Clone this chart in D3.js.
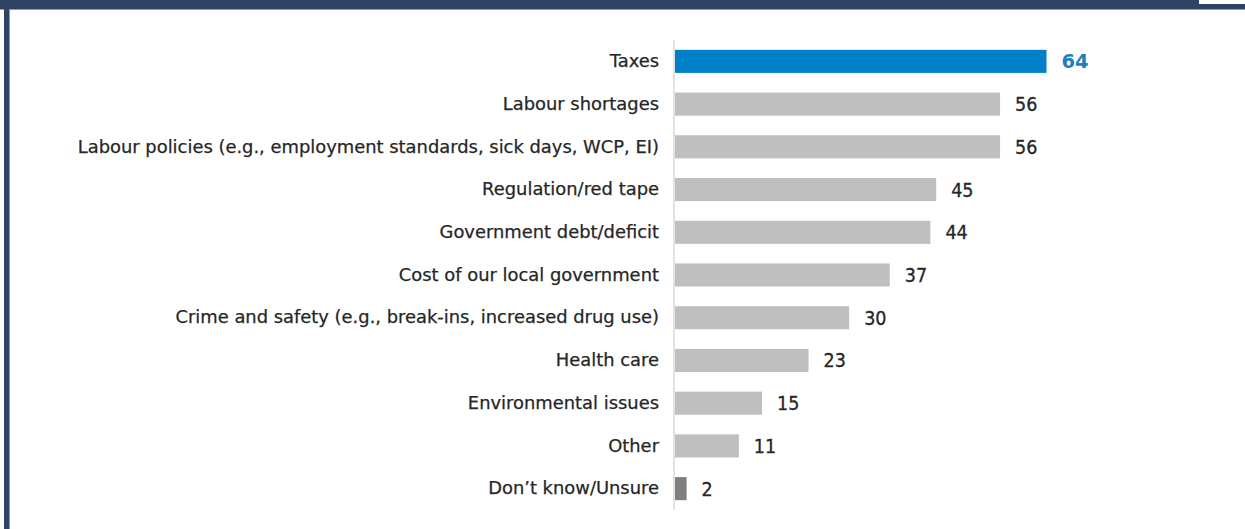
<!DOCTYPE html>
<html>
<head>
<meta charset="utf-8">
<script src="https://cdn.jsdelivr.net/npm/d3@7"></script>
<style>
  html, body { margin: 0; padding: 0; background: #fff; }
  svg { display: block; }
</style>
</head>
<body>
<svg id="chart" width="1245" height="529"></svg>
<script>
// Share of respondents citing each issue (%)
const categories = [
  "Taxes",
  "Labour shortages",
  "Labour policies (e.g., employment standards, sick days, WCP, EI)",
  "Regulation/red tape",
  "Government debt/deficit",
  "Cost of our local government",
  "Crime and safety (e.g., break-ins, increased drug use)",
  "Health care",
  "Environmental issues",
  "Other",
  "Don\u2019t know/Unsure"
];
const values = [64, 56, 56, 45, 44, 37, 30, 23, 15, 11, 2];
const highlight = ["Taxes"];
const muted = ["Don\u2019t know/Unsure"];

const svg = d3.select("#chart");
const W = 1245, H = 529;

// Frame: navy bands across the top and down the left edge
svg.append("rect").attr("x", 0).attr("y", 0).attr("width", W).attr("height", 9).attr("fill", "#2f4364");
svg.append("rect").attr("x", 1199).attr("y", 0).attr("width", W - 1199).attr("height", 4).attr("fill", "#ffffff");
svg.append("rect").attr("x", 0).attr("y", 9).attr("width", W).attr("height", 1).attr("fill", "#8d9ab3");
svg.append("rect").attr("x", 4).attr("y", 0).attr("width", 5).attr("height", H).attr("fill", "#2f4364");
svg.append("rect").attr("x", 9).attr("y", 9).attr("width", 1).attr("height", H).attr("fill", "#8d9ab3");

const x = d3.scaleLinear().domain([0, 64]).range([675, 1046.5]);
const y = d3.scaleBand().domain(categories).range([40, 510]).paddingInner(0.46).paddingOuter(0.23);

const rows = categories.map((c, i) => ({ cat: c, val: values[i] }));

// Bars
svg.append("g").selectAll("rect").data(rows).join("rect")
  .attr("x", x(0))
  .attr("y", d => y(d.cat))
  .attr("width", d => x(d.val) - x(0))
  .attr("height", y.bandwidth())
  .attr("fill", d => highlight.includes(d.cat) ? "#0080c6" : muted.includes(d.cat) ? "#7f7f7f" : "#bfbfbf");

// Baseline
svg.append("line")
  .attr("x1", 674).attr("x2", 674)
  .attr("y1", 40).attr("y2", 510)
  .attr("stroke", "#e2e2e2").attr("stroke-width", 2);

// Category labels via a left axis
const yAxis = d3.axisLeft(y).tickSize(0).tickPadding(0);
const ga = svg.append("g").attr("transform", "translate(659,0)").call(yAxis);
ga.select(".domain").remove();
ga.selectAll("text")
  .attr("font-family", "'DejaVu Sans', sans-serif")
  .attr("font-size", 17.9)
  .attr("fill", "#262626")
  .attr("stroke", "#262626")
  .attr("stroke-width", 0.25);

// Value labels
svg.append("g").selectAll("text").data(rows).join("text")
  .attr("x", d => x(d.val) + 15)
  .attr("y", d => y(d.cat) + y.bandwidth() / 2)
  .attr("dy", "0.36em")
  .attr("font-family", d => highlight.includes(d.cat) ? "'DejaVu Sans', sans-serif" : "'DejaVu Sans Condensed', 'DejaVu Sans', sans-serif")
  .attr("font-size", 19.5)
  .attr("font-weight", d => highlight.includes(d.cat) ? "bold" : "normal")
  .attr("fill", d => highlight.includes(d.cat) ? "#1a7fc1" : "#262626")
  .attr("stroke", d => highlight.includes(d.cat) ? "none" : "#262626")
  .attr("stroke-width", 0.3)
  .text(d => d.val);
</script>
</body>
</html>
